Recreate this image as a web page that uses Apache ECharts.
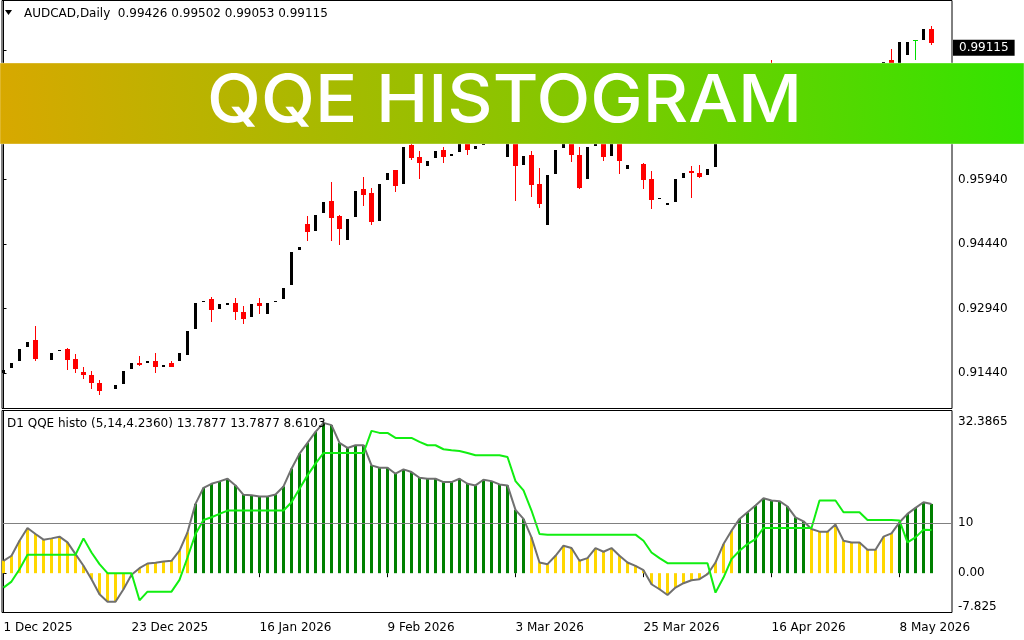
<!DOCTYPE html>
<html>
<head>
<meta charset="utf-8">
<script src="https://cdn.jsdelivr.net/npm/echarts@6/dist/echarts.min.js"></script>
<style>
html,body{margin:0;padding:0;background:#fff;}
#chart{width:1024px;height:640px;}
</style>
</head>
<body>
<div id="chart"></div>
<script>
// ---------------- DATA ----------------
const symbolName = 'AUDCAD,Daily';
const indicatorName = 'D1 QQE histo (5,14,4.2360)';
const firstDay = '2025-12-01';
const barCount = 117;
const holidays = ['2025-12-25', '2026-01-01'];
const monthNames = ['Jan','Feb','Mar','Apr','May','Jun','Jul','Aug','Sep','Oct','Nov','Dec'];

const open = [0.91452,0.91559,0.91721,0.92046,0.92202,null,0.91744,0.91953,0.91993,0.91761,
0.91459,0.91412,0.91226,null,0.91071,0.91187,0.91535,0.91691,0.91675,0.91737,
0.91598,0.91668,0.91721,0.91860,0.92464,0.93091,0.93154,0.92928,0.93021,0.93084,
0.92852,0.92743,0.93061,0.92812,0.93091,0.93161,0.93486,0.94298,0.94918,0.94739,
0.95157,0.95452,0.95081,0.94530,0.95064,0.95708,0.95615,0.94972,0.95923,0.96149,
0.95831,0.96736,0.96451,0.96249,0.96434,0.96636,0.96481,0.96567,0.97000,0.96643,
0.96736,0.96900,0.97120,0.96458,0.97080,0.96272,0.96520,0.95824,0.94879,0.96063,
0.96666,0.96980,0.96520,0.95947,0.96713,0.96920,0.96481,0.96950,0.96179,null,
0.96311,0.95940,0.95482,0.95343,0.95413,0.95970,0.96126,0.96102,0.96040,0.96225,
0.96840,0.97140,0.97500,0.97360,0.97700,0.98060,0.98460,0.98320,0.98460,0.98200,
0.98040,0.97980,0.97840,0.97940,0.97860,0.98120,0.97820,0.97760,0.97840,0.97680,
0.97800,0.98703,0.98480,0.98826,0.99174,0.99174,0.99426];
const high = [0.91528,0.91691,0.92016,0.92178,0.92550,null,0.91923,0.91977,0.92032,0.91877,
0.91591,0.91505,0.91296,null,0.91180,0.91505,0.91668,0.91853,0.91737,0.91923,
0.91644,0.91737,0.91900,0.92434,0.93061,0.93130,0.93223,0.93038,0.93061,0.93200,
0.93014,0.93038,0.93200,0.93061,0.93130,0.93432,0.94268,0.94384,0.95104,0.95127,
0.95429,0.95893,0.95127,0.95034,0.95684,0.96009,0.95731,0.95824,0.96102,0.96172,
0.96706,0.96800,0.96613,0.96381,0.96613,0.96706,0.96543,0.96900,0.97120,0.96713,
0.96950,0.97100,0.97250,0.97050,0.97200,0.96497,0.96613,0.96218,0.96033,0.96636,
0.96950,0.97100,0.96706,0.96683,0.96880,0.97020,0.96920,0.97050,0.96288,null,
0.96334,0.96126,0.95499,0.95383,0.95940,0.96102,0.96265,0.96288,0.96195,0.96800,
0.97160,0.97480,0.97620,0.97720,0.98040,0.98420,0.98710,0.98460,0.98580,0.98320,
0.98180,0.98100,0.97940,0.98060,0.98120,0.98200,0.97940,0.97840,0.97960,0.97780,
0.98679,0.98981,0.99128,0.99144,0.99190,0.99430,0.99502];
const low = [0.91452,0.91559,0.91721,0.92046,0.91737,null,0.91744,0.91953,0.91512,0.91452,
0.91303,0.91071,0.90932,null,0.91071,0.91187,0.91535,0.91621,0.91675,0.91442,
0.91598,0.91575,0.91721,0.91860,0.92464,0.93091,0.92626,0.92928,0.93021,0.92673,
0.92580,0.92743,0.92812,0.92812,0.93091,0.93161,0.93486,0.94298,0.94507,0.94739,
0.95157,0.94507,0.94414,0.94530,0.95064,0.95320,0.94879,0.94972,0.95923,0.95645,
0.95831,0.96404,0.95963,0.96249,0.96434,0.96334,0.96481,0.96567,0.96504,0.96643,
0.96736,0.96900,0.96850,0.96458,0.95436,0.96272,0.95529,0.95273,0.94879,0.96063,
0.96666,0.96341,0.95714,0.95947,0.96713,0.96365,0.96481,0.96063,0.96179,null,
0.95714,0.95250,0.95482,0.95343,0.95413,0.95970,0.95506,0.95970,0.96040,0.96225,
0.96840,0.97140,0.97280,0.97360,0.97700,0.98060,0.98220,0.98320,0.98120,0.97960,
0.97920,0.97760,0.97840,0.97780,0.97860,0.97740,0.97700,0.97760,0.97620,0.97680,
0.97800,0.98380,0.98480,0.98826,0.98726,0.99174,0.99053];
const close = [0.91528,0.91691,0.92016,0.92178,0.91761,null,0.91923,0.91977,0.91744,0.91535,
0.91396,0.91210,0.91024,null,0.91180,0.91505,0.91668,0.91644,0.91737,0.91575,
0.91644,0.91598,0.91900,0.92434,0.93061,0.93130,0.92905,0.93038,0.93061,0.92859,
0.92696,0.93038,0.92998,0.93061,0.93130,0.93432,0.94268,0.94384,0.94716,0.95127,
0.95429,0.95041,0.94786,0.95034,0.95684,0.95591,0.94948,0.95824,0.96102,0.95784,
0.96706,0.96434,0.96318,0.96381,0.96613,0.96458,0.96543,0.96900,0.96620,0.96713,
0.96950,0.97100,0.96950,0.97050,0.96249,0.96497,0.95807,0.95366,0.96033,0.96636,
0.96950,0.96504,0.95738,0.96683,0.96880,0.96458,0.96920,0.96365,0.96288,null,
0.95923,0.95459,0.95499,0.95383,0.95940,0.96102,0.96086,0.95993,0.96195,0.96800,
0.97160,0.97480,0.97380,0.97720,0.98040,0.98420,0.98340,0.98460,0.98200,0.98040,
0.97980,0.97860,0.97940,0.97880,0.98120,0.97820,0.97780,0.97840,0.97700,0.97780,
0.98679,0.98460,0.99128,0.99144,0.99174,0.99430,0.99115];

// QQE main value (histogram height and grey line)
const qqeValue = [2.47,3.47,6.47,9.0,7.8,6.67,6.93,7.27,6.13,3.8,
1.47,-1.2,-4.2,-5.67,-5.67,-3.2,-0.33,1.0,1.93,2.07,
2.33,2.47,4.47,8.13,13.8,17.0,17.8,18.27,18.8,17.47,
15.6,15.5,15.27,15.27,15.67,17.27,20.8,23.8,25.93,28.13,
29.93,29.47,25.93,24.93,25.47,25.47,21.47,21.0,21.0,19.8,
20.67,20.13,19.0,18.8,18.8,18.13,18.13,18.8,17.8,17.47,
18.6,18.33,17.67,17.47,12.6,10.8,7.13,2.13,1.8,3.47,
5.47,5.0,2.47,3.0,5.0,4.27,5.0,3.47,2.13,1.47,
0.6,-2.2,-3.2,-4.33,-2.87,-2.0,-1.4,-1.2,-0.2,2.13,
5.8,8.47,10.8,12.13,13.47,14.93,14.47,14.33,13.27,11.13,
10.33,8.8,8.27,8.27,9.67,6.47,6.13,6.13,4.67,4.67,
7.27,7.93,10.13,11.8,13.0,14.13,13.7877];
// QQE trailing signal line
const qqeSignal = [-2.87,-1.67,0.8,3.67,3.67,3.67,3.67,3.67,3.67,3.67,
6.93,4.13,1.8,0.0,0.0,0.0,0.0,-5.4,-3.67,-3.67,
-3.67,-3.67,-1.33,3.13,7.8,10.6,11.13,11.8,12.47,12.47,
12.47,12.47,12.47,12.47,12.47,12.47,14.13,16.8,19.47,21.8,
23.93,23.93,23.93,23.93,23.93,23.93,28.33,27.93,27.93,26.93,
26.93,26.93,26.13,25.47,25.47,24.67,24.47,24.33,23.93,23.47,
23.47,23.47,23.47,23.13,18.33,16.47,12.47,7.8,7.67,7.67,
7.67,7.67,7.67,7.67,7.67,7.67,7.67,7.67,7.67,7.67,
6.47,4.13,3.0,2.0,2.0,2.0,2.0,2.0,2.0,-3.87,
-0.87,2.8,4.47,5.8,6.8,9.0,9.0,9.0,9.0,9.0,
9.0,9.0,14.47,14.47,14.47,12.13,12.13,12.13,10.6,10.6,
10.6,10.6,10.47,6.13,7.13,8.67,8.6103];

const qqeLevel = 10;
const priceTicks = [0.91440, 0.92940, 0.94440, 0.95940, 0.97440, 0.98940];
const qqeTickValues = [-7.825, 0, 10, 32.3865];
const qqeTickLabels = ['-7.825', '0.00', '10', '32.3865'];
const dateTickIndex = [0, 16, 32, 48, 64, 80, 96, 112];

// ---------------- BUILD ----------------
function buildDates() {
  const out = [];
  const d = new Date(firstDay + 'T00:00:00Z');
  while (out.length < barCount) {
    const iso = d.toISOString().slice(0, 10);
    const wd = d.getUTCDay();
    if (wd !== 0 && wd !== 6 && holidays.indexOf(iso) < 0) {
      out.push(d.getUTCDate() + ' ' + monthNames[d.getUTCMonth()] + ' ' + d.getUTCFullYear());
    }
    d.setUTCDate(d.getUTCDate() + 1);
  }
  return out;
}
const dates = buildDates();

const X_MIN = -0.1875, X_MAX = 118.5625;
const P_MIN = 0.90623, P_MAX = 1.00096;
const FONT = 'DejaVu Sans';

const candleData = [];
for (let i = 0; i < barCount; i++) {
  if (open[i] != null) candleData.push([i, open[i], high[i], low[i], close[i]]);
}
const histData = qqeValue.map((v, i) => [i, v]);
const sigData = qqeSignal.map((v, i) => [i, v]);
const last = barCount - 1;

function renderCandle(params, api) {
  const i = api.value(0), o = api.value(1), h = api.value(2), l = api.value(3), c = api.value(4);
  const pO = api.coord([i, o]), pC = api.coord([i, c]), pH = api.coord([i, h]), pL = api.coord([i, l]);
  const xc = Math.floor(pO[0]);
  const children = [];
  const yO = Math.round(pO[1]), yC = Math.round(pC[1]), yH = Math.round(pH[1]), yL = Math.round(pL[1]);
  if (c > o) {
    children.push({type: 'rect', shape: {x: xc - 1, y: yC, width: 3, height: Math.max(1, yO - yC)}, style: {fill: '#000'}});
  } else if (c < o) {
    children.push({type: 'rect', shape: {x: xc, y: yH, width: 1, height: Math.max(1, yL - yH)}, style: {fill: '#ff0000'}});
    children.push({type: 'rect', shape: {x: xc - 2, y: yO, width: 5, height: Math.max(1, yC - yO)}, style: {fill: '#ff0000'}});
  } else {
    children.push({type: 'rect', shape: {x: xc, y: yH, width: 1, height: Math.max(1, yL - yH)}, style: {fill: '#00dd00'}});
    children.push({type: 'rect', shape: {x: xc - 2, y: yO, width: 5, height: 1}, style: {fill: '#00dd00'}});
  }
  return {type: 'group', children: children};
}

// banner text fit
const bannerText = 'QQE HISTOGRAM';
const bannerFont = '500 66px Inter';
const mctx = document.createElement('canvas').getContext('2d');
mctx.font = bannerFont;
const bannerW = mctx.measureText(bannerText).width || 595;
const bannerScale = 595 / bannerW;

const chart = echarts.init(document.getElementById('chart'), null, {renderer: 'canvas'});
const axisLabelStyle = {color: '#000', fontFamily: FONT, fontSize: 12};

const option = {
  animation: false,
  backgroundColor: '#ffffff',
  grid: [
    {left: 2, top: 0.5, width: 950, height: 408, show: true, borderColor: '#000', borderWidth: 1, backgroundColor: 'transparent'},
    {left: 2, top: 410.5, width: 950, height: 202, show: true, borderColor: '#000', borderWidth: 1, backgroundColor: 'transparent'}
  ],
  xAxis: [
    {type: 'value', gridIndex: 0, min: X_MIN, max: X_MAX, show: false},
    {type: 'value', gridIndex: 1, min: X_MIN, max: X_MAX, position: 'bottom',
      axisLine: {show: false}, splitLine: {show: false},
      axisTick: {show: true, customValues: dateTickIndex, length: 4, lineStyle: {color: '#000'}},
      axisLabel: Object.assign({customValues: dateTickIndex, formatter: v => dates[Math.round(v)], align: 'left', margin: 9}, axisLabelStyle)
    }
  ],
  yAxis: [
    {type: 'value', gridIndex: 0, position: 'right', min: P_MIN, max: P_MAX,
      axisLine: {show: true, lineStyle: {color: '#000'}}, splitLine: {show: false},
      axisTick: {show: true, customValues: priceTicks, length: 3, lineStyle: {color: '#000'}},
      axisLabel: Object.assign({customValues: priceTicks, formatter: v => v.toFixed(5), margin: 6}, axisLabelStyle)
    },
    {type: 'value', gridIndex: 1, position: 'right', min: qqeTickValues[0], max: qqeTickValues[3],
      axisLine: {show: true, lineStyle: {color: '#000'}}, splitLine: {show: false},
      axisTick: {show: true, customValues: qqeTickValues, length: 3, lineStyle: {color: '#000'}},
      axisLabel: Object.assign({customValues: qqeTickValues, margin: 6,
        verticalAlignMinLabel: 'bottom', verticalAlignMaxLabel: 'top',
        rich: {mx: {padding: [5, 0, 0, 0], color: '#000', fontFamily: FONT, fontSize: 12}},
        formatter: v => {
          let k = 0, best = Infinity;
          qqeTickValues.forEach((t, j) => { const dd = Math.abs(t - v); if (dd < best) { best = dd; k = j; } });
          return k === qqeTickValues.length - 1 ? '{mx|' + qqeTickLabels[k] + '}' : qqeTickLabels[k];
        }}, axisLabelStyle)
    }
  ],
  series: [
    {type: 'custom', name: 'price', xAxisIndex: 0, yAxisIndex: 0, renderItem: renderCandle,
      encode: {x: 0, y: [1, 2, 3, 4]}, data: candleData, clip: true, silent: true, z: 3},
    {type: 'line', name: 'lastprice', xAxisIndex: 0, yAxisIndex: 0, data: [[last, close[last]]],
      showSymbol: false, symbol: 'none', lineStyle: {width: 0}, silent: true, z: 6,
      markLine: {symbol: 'none', silent: true, animation: false,
        lineStyle: {color: 'rgba(0,0,0,0)', width: 0, type: 'solid'},
        label: {show: true, position: 'end', distance: 1, formatter: close[last].toFixed(5),
          backgroundColor: '#000', color: '#fff', fontFamily: FONT, fontSize: 12, lineHeight: 14, padding: [1, 6, 1, 6]},
        data: [{yAxis: close[last]}]}
    },
    {type: 'bar', name: 'histo', xAxisIndex: 1, yAxisIndex: 1, data: histData, barWidth: 3,
      itemStyle: {color: p => (p.value[1] > qqeLevel ? '#008000' : '#FFD700')}, silent: true, z: 2,
      markLine: {symbol: 'none', silent: true, animation: false, label: {show: false},
        lineStyle: {color: '#808080', width: 1, type: 'solid'}, data: [{yAxis: qqeLevel}]}
    },
    {type: 'line', name: 'qqe', xAxisIndex: 1, yAxisIndex: 1, data: histData, showSymbol: false, symbol: 'none',
      lineStyle: {color: '#707070', width: 2}, silent: true, z: 3},
    {type: 'line', name: 'signal', xAxisIndex: 1, yAxisIndex: 1, data: sigData, showSymbol: false, symbol: 'none',
      lineStyle: {color: '#11ee11', width: 2}, silent: true, z: 4}
  ],
  graphic: [
    {type: 'polygon', shape: {points: [[5, 10], [12, 10], [8.5, 15]]}, style: {fill: '#000'}, z: 10},
    {type: 'text', x: 24, y: 14, z: 10,
      style: {text: symbolName + '  ' + [open[last], high[last], low[last], close[last]].map(v => v.toFixed(5)).join(' '),
        font: '12px "DejaVu Sans"', fill: '#000', verticalAlign: 'middle', textVerticalAlign: 'middle'}},
    {type: 'text', x: 7, y: 424, z: 10,
      style: {text: indicatorName + ' ' + qqeValue[last].toFixed(4) + ' ' + qqeValue[last].toFixed(4) + ' ' + qqeSignal[last].toFixed(4),
        font: '12px "DejaVu Sans"', fill: '#000', verticalAlign: 'middle', textVerticalAlign: 'middle'}},
    {type: 'rect', shape: {x: 0, y: 63, width: 1024, height: 81}, z: 50,
      style: {fill: new echarts.graphic.LinearGradient(0, 1, 1, 0, [
        {offset: 0, color: '#D8A800'}, {offset: 0.5, color: '#8CC400'}, {offset: 1, color: '#33E400'}]),
        stroke: 'rgba(255,255,255,0.35)', lineWidth: 1}},
    {type: 'text', x: 504.5, y: 102, scaleX: bannerScale, z: 51,
      style: {text: bannerText, font: bannerFont, fill: '#fff', align: 'center', verticalAlign: 'middle',
        textAlign: 'center', textVerticalAlign: 'middle'}}
  ]
};
chart.setOption(option);
</script>
</body>
</html>
